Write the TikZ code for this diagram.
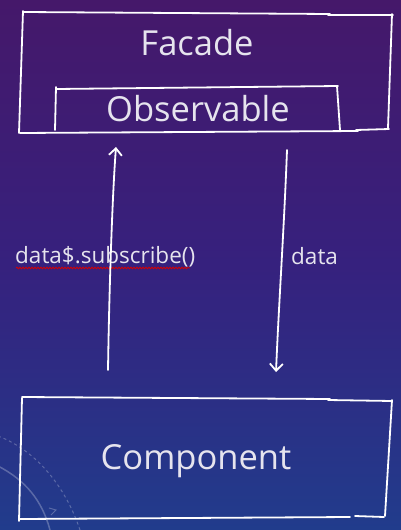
\documentclass[tikz,border=0pt]{standalone}
\usepackage{fontspec}
\setmainfont{Open Sans}
\usetikzlibrary{arrows.meta,decorations.pathmorphing}
\definecolor{bgtop}{HTML}{45186A}
\definecolor{bgmid}{HTML}{36217E}
\definecolor{bgbot}{HTML}{213C8C}
\definecolor{txt}{HTML}{E6E4EE}
\tikzset{
  sketch/.style={draw=white, line width=1.8pt, line cap=round},
  title/.style={text=txt, font=\fontsize{34.5}{40}\selectfont, inner sep=0pt, anchor=base},
  lbl/.style={text=txt, font=\fontsize{22.5}{26}\selectfont, inner sep=0pt, anchor=base west},
  flow/.style={draw=white, line width=1.8pt, line cap=round, -{Straight Barb[length=7pt,width=13pt,line width=1.8pt]}},
  deco/.style={draw=white, opacity=0.25, line width=1pt}
}
\begin{document}
\begin{tikzpicture}[x=1pt,y=-1pt]
\useasboundingbox (0,0) rectangle (401,530);
\shade[top color=bgtop, bottom color=bgbot, middle color=bgmid] (0,0) rectangle (401,530);
% faint decoration bottom-left
\draw[deco, line width=1.5pt] (-2,466) .. controls (25,480) and (42,500) .. (50,530);
\draw[deco, dashed] (-2,436) .. controls (35,450) and (65,485) .. (80,530);
\draw[deco] (49,508) -- (56,510) -- (51,515);
% Facade box
\draw[sketch] (23,12) -- (330,14);
\draw[sketch] (328,15) -- (393,15);
\draw[sketch] (392,14) -- (388,128);
\draw[sketch] (20,133) -- (358,131);
\draw[sketch] (356,130) -- (389,129);
\draw[sketch] (23,11) -- (19,133);
% Observable box
\draw[sketch] (56,89) -- (338,86);
\draw[sketch] (56,87) -- (55,130);
\draw[sketch] (337,86) -- (340,130);
% Component box
\draw[sketch] (22,397) -- (330,399);
\draw[sketch] (328,400) -- (392,401);
\draw[sketch] (392,400) -- (385,516);
\draw[sketch] (20,519) -- (350,517);
\draw[sketch] (355,516) -- (384,517);
\draw[sketch] (22,398) -- (19,521);
% texts
\node[title] (facade) at (197,55) {Facade};
\node[title] (obs) at (198,121) {Observable};
\node[title] (comp) at (196,469) {Component};
\node[lbl] (sub) at (15,263) {data\$.subscribe()};
\node[lbl] (data) at (291,264) {data};
\draw[red!85!black, line width=0.8pt, decorate, decoration={snake, amplitude=0.8pt, segment length=3pt}] (16,268) -- (190,268);
% arrows
\coordinate (upA) at (108,370);
\coordinate (upB) at (116,147);
\coordinate (dnA) at (287,150);
\coordinate (dnB) at (276,372);
\draw[flow] (upA) .. controls (109,300) and (112,200) .. (upB);
\draw[flow] (dnA) .. controls (284,230) and (279,300) .. (dnB);
\end{tikzpicture}
\end{document}
